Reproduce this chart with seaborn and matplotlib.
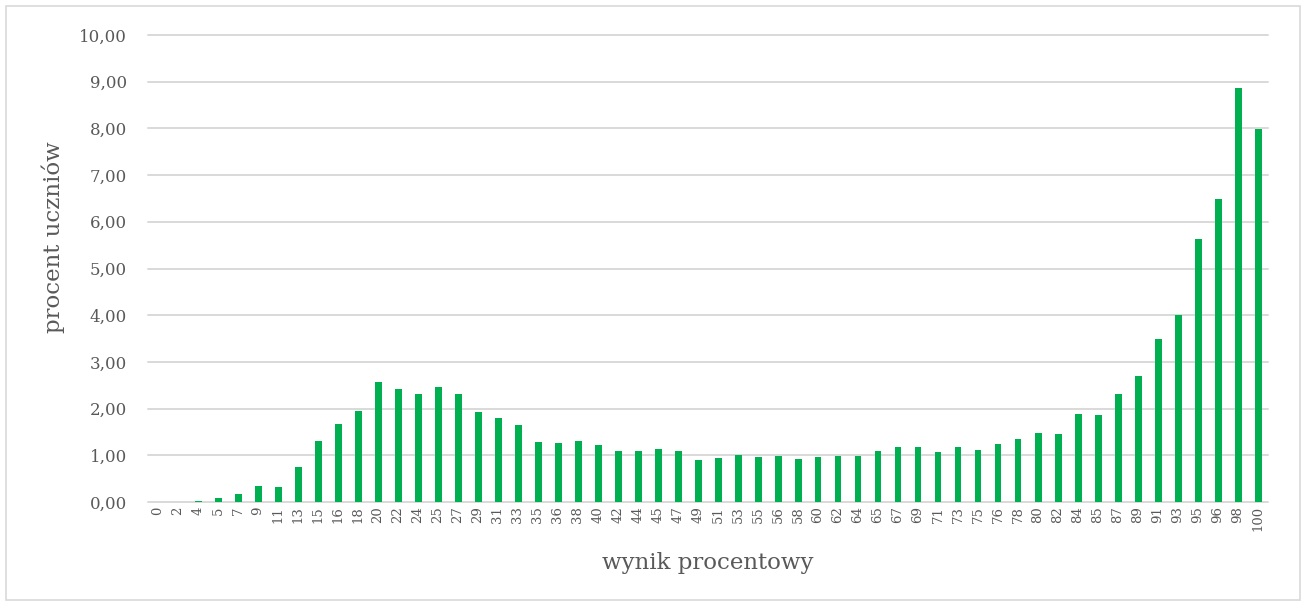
import matplotlib
matplotlib.use("Agg")
import matplotlib.pyplot as plt
import seaborn as sns
import pandas as pd
from matplotlib.ticker import FuncFormatter, MultipleLocator
from matplotlib.patches import Rectangle

categories = ["0","2","4","5","7","9","11","13","15","16","18","20","22","24","25","27","29","31","33","35",
              "36","38","40","42","44","45","47","49","51","53","55","56","58","60","62","64","65","67","69","71",
              "73","75","76","78","80","82","84","85","87","89","91","93","95","96","98","100"]
values = [0.00, 0.00, 0.03, 0.08, 0.18, 0.35, 0.33, 0.74, 1.31, 1.67, 1.95, 2.56, 2.43, 2.32, 2.47, 2.32, 1.92, 1.79, 1.64, 1.29,
          1.26, 1.30, 1.22, 1.09, 1.09, 1.13, 1.10, 0.90, 0.94, 1.00, 0.97, 0.98, 0.92, 0.96, 0.99, 0.98, 1.10, 1.18, 1.17, 1.08,
          1.18, 1.11, 1.25, 1.35, 1.48, 1.45, 1.88, 1.86, 2.31, 2.70, 3.50, 4.01, 5.64, 6.48, 8.87, 7.99]

x_title = "wynik procentowy"
y_title = "procent uczniów"

sns.set_theme(style="white")
plt.rcParams['font.family'] = ['DejaVu Serif', 'Liberation Serif']

df = pd.DataFrame({"wynik": categories, "procent": values})

fig = plt.figure(figsize=(13.06, 6.06), dpi=100)
ax = fig.add_axes([148/1306, 1 - 502/606, 1120/1306, 467/606])

sns.barplot(data=df, x="wynik", y="procent", order=categories, color="#00B050",
            width=0.35, saturation=1, edgecolor="none", ax=ax)

ax.set_xlim(-0.5, len(categories) - 0.5)
ax.set_ylim(0, 10)
ax.yaxis.set_major_locator(MultipleLocator(1))
ax.yaxis.set_major_formatter(FuncFormatter(lambda v, p: f"{v:.2f}".replace(".", ",")))
ax.grid(axis="y", color="#d9d9d9", linewidth=1.4)
for gl in ax.get_ygridlines():
    gl.set_clip_on(False)
ax.set_axisbelow(True)
for s in ax.spines.values():
    s.set_visible(False)

ax.tick_params(axis="y", length=0, pad=15, labelsize=12, labelcolor="#595959")
ax.tick_params(axis="x", length=0, pad=3, labelsize=9.5, labelcolor="#595959", labelrotation=90)

ax.set_xlabel(x_title, fontsize=16.5, color="#595959")
ax.set_ylabel(y_title, fontsize=16.5, color="#595959")
ax.xaxis.set_label_coords(0.5, -0.107)
ax.yaxis.set_label_coords(-0.074, 0.567)

fig.patches.append(Rectangle((6/1306, 6/606), 1294/1306, 594/606, transform=fig.transFigure,
                             fill=False, edgecolor="#d9d9d9", linewidth=1.2))

fig.savefig("out.png", dpi=100)
